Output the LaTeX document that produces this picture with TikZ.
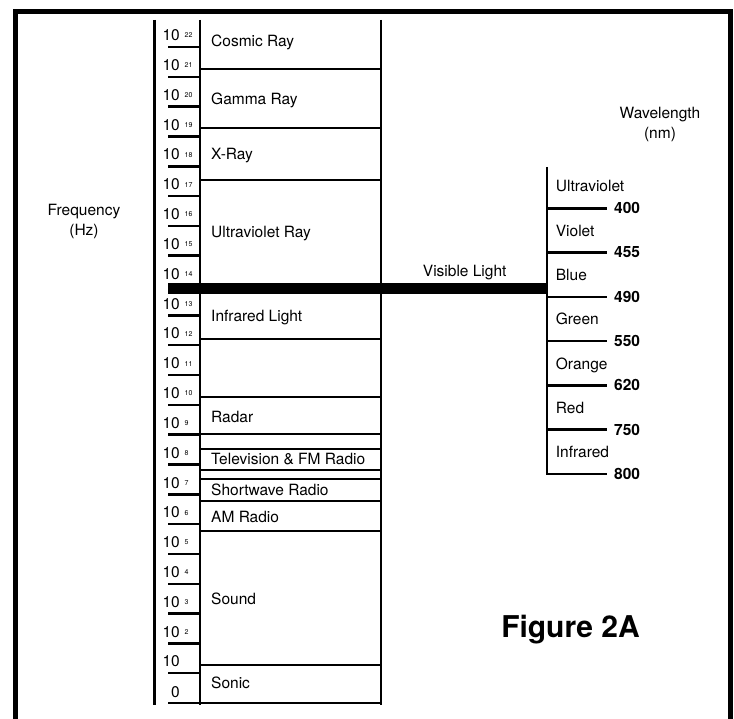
\documentclass[tikz,border=0pt]{standalone}
\usepackage{fontspec}
\setmainfont{TeX Gyre Heros}
\usetikzlibrary{positioning}

\begin{document}
\begin{tikzpicture}[
    x=1pt, y=-1pt,
    font=\fontsize{15.5}{20}\selectfont,
    frame/.style={line width=5pt, line join=miter},
    band/.style={line width=2pt},
    axis/.style={line width=2.8pt},
    freqtick/.style={line width=2.5pt},
    wavetick/.style={line width=2.7pt},
    tenlab/.style={anchor=base east, inner sep=0pt, font=\fontsize{15.5}{17}\selectfont},
    explab/.style={anchor=base west, inner sep=0pt, font=\fontsize{7}{8}\selectfont},
    bandlab/.style={anchor=base west, inner sep=0pt},
    colourlab/.style={anchor=base west, inner sep=0pt},
    wavelab/.style={anchor=base west, inner sep=0pt, font=\fontsize{15.5}{20}\selectfont\bfseries}
]
    \useasboundingbox (0,0) rectangle (734,719);

    % ==========================================
    % COORDINATES
    % ==========================================
    % Frequency axis and band column
    \coordinate (fax_top) at (154.5, 20);
    \coordinate (fax_bot) at (154.5, 705);
    \coordinate (col_ltop) at (200, 20);
    \coordinate (col_lbot) at (200, 705);
    \coordinate (col_rtop) at (381, 20);
    \coordinate (col_rbot) at (381, 705);

    % Visible light bar
    \coordinate (vis_left)  at (168, 288.5);
    \coordinate (vis_right) at (547, 288.5);

    % Wavelength axis
    \coordinate (wax_top) at (547, 167);
    \coordinate (wax_bot) at (547, 475.3);

    % ==========================================
    % FRAME
    % ==========================================
    \draw[frame] (15.8, 719) -- (15.8, 12) -- (730, 12) -- (730, 719);

    % ==========================================
    % FREQUENCY AXIS (ticks and powers of ten)
    % ==========================================
    \draw[axis] (fax_top) -- (fax_bot);

    \foreach \p [count=\i from 0] in {22,21,...,2} {
        \pgfmathsetmacro\ty{47+\i*29.82}
        \draw[freqtick] (168,\ty) -- (200,\ty);
        \node[tenlab] (ten\p) at (180,\ty-6.3) {10};
        \node[explab] (exp\p) at (184.5,\ty-9) {\p};
    }
    % 10 and 0
    \draw[freqtick] (168,673.2) -- (200,673.2);
    \node[tenlab] (ten1) at (180,666.9) {10};
    \draw[freqtick] (168,703) -- (381,703);
    \node[tenlab] (ten0) at (180,697.5) {0};

    % ==========================================
    % BAND COLUMN
    % ==========================================
    \draw[band] (col_ltop) -- (col_lbot);
    \draw[band] (col_rtop) -- (col_rbot);
    \foreach \y in {69,128.3,180,339,397,434,448.5,470,479,501,531,665}
        \draw[band] (200,\y) -- (381,\y);

    \node[bandlab] (cosmic) at (211,47)    {Cosmic Ray};
    \node[bandlab] (gamma)  at (211,104.8) {Gamma Ray};
    \node[bandlab] (xray)   at (211,159.5) {X-Ray};
    \node[bandlab] (uvray)  at (211,238)   {Ultraviolet Ray};
    \node[bandlab] (irlight) at (211,321.5) {Infrared Light};
    \node[bandlab] (radar)  at (211,422)   {Radar};
    \node[bandlab] (tvfm)   at (211,464.8) {Television \& FM Radio};
    \node[bandlab] (swave)  at (211,495.5) {Shortwave Radio};
    \node[bandlab] (amradio) at (211,522)  {AM Radio};
    \node[bandlab] (sound)  at (211,604.8) {Sound};
    \node[bandlab] (sonic)  at (211,688.8) {Sonic};

    % ==========================================
    % VISIBLE LIGHT
    % ==========================================
    \draw[line width=11pt] (vis_left) -- (vis_right);
    \node[anchor=base, inner sep=0pt] (visible) at (464.7,276.2) {Visible Light};

    % ==========================================
    % WAVELENGTH AXIS
    % ==========================================
    \draw[axis] (wax_top) -- (wax_bot);
    \foreach \w [count=\i from 0] in {400,455,490,550,620,750,800} {
        \pgfmathsetmacro\wy{208.3+\i*44.28}
        \draw[wavetick] (547,\wy) -- (607,\wy);
        \node[wavelab] (nm\w) at (614,\wy+5.4) {\w};
    }
    \foreach \c [count=\i from 0] in {Ultraviolet,Violet,Blue,Green,Orange,Red,Infrared} {
        \pgfmathsetmacro\cy{208.3+\i*44.28-16.3}
        \node[colourlab] (col\i) at (555.7,\cy) {\c};
    }

    % ==========================================
    % AXIS TITLES
    % ==========================================
    \node[align=center, inner sep=0pt] (freq) at (84,221) {Frequency\\(Hz)};
    \node[align=center, inner sep=0pt] (wave) at (660,124) {Wavelength\\(nm)};
    \node[anchor=base, inner sep=0pt, font=\fontsize{30}{34}\selectfont\bfseries]
        (fig) at (570.5,637.3) {Figure 2A};

\end{tikzpicture}
\end{document}
